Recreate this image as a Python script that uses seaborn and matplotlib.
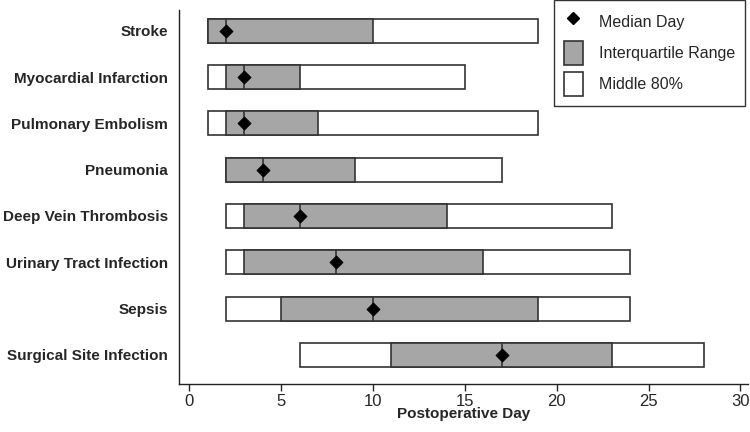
import matplotlib
matplotlib.use("Agg")
import matplotlib.pyplot as plt
import seaborn as sns
import pandas as pd
from matplotlib.patches import Patch
from matplotlib.lines import Line2D

complications = ["Stroke", "Myocardial Infarction", "Pulmonary Embolism", "Pneumonia",
                 "Deep Vein Thrombosis", "Urinary Tract Infection", "Sepsis",
                 "Surgical Site Infection"]
p10 = [1, 1, 1, 2, 2, 2, 2, 6]
q1 = [1, 2, 2, 2, 3, 3, 5, 11]
median = [2, 3, 3, 4, 6, 8, 10, 17]
q3 = [10, 6, 7, 9, 14, 16, 19, 23]
p90 = [19, 15, 19, 17, 23, 24, 24, 28]

df = pd.DataFrame({"complication": complications, "p10": p10, "q1": q1,
                   "median": median, "q3": q3, "p90": p90})

sns.set_style("ticks")
plt.rcParams["font.family"] = ["Liberation Sans", "DejaVu Sans"]

fig = plt.figure(figsize=(7.5, 4.32), dpi=100)
ax = fig.add_axes([0.239, 0.111, 0.758, 0.866])

ypos = list(range(len(df)))
h = 0.52
gray = "#a6a6a6"

# middle 80% (white) then IQR (gray) on top
ax.barh(ypos, df["p90"] - df["p10"], left=df["p10"], height=h,
        color="white", edgecolor="#333333", linewidth=1.2, zorder=2)
ax.barh(ypos, df["q3"] - df["q1"], left=df["q1"], height=h,
        color=gray, edgecolor="#333333", linewidth=1.2, zorder=3)
# median line through the box
for y, m in zip(ypos, df["median"]):
    ax.plot([m, m], [y - h / 2, y + h / 2], color="#333333", lw=1.2, zorder=4)
sns.scatterplot(x=df["median"], y=ypos, marker="D", s=45, color="black",
                edgecolor="black", ax=ax, zorder=5, legend=False)

ax.set_yticks(ypos)
ax.set_yticklabels(complications, fontweight="bold", fontsize=11)
ax.tick_params(axis="y", length=0, pad=8)
ax.set_ylim(7.63, -0.45)
ax.set_xlim(-0.55, 30.4)
ax.set_xticks(range(0, 31, 5))
ax.tick_params(axis="x", labelsize=12, length=5, width=1, pad=2)
ax.set_xlabel("Postoperative Day", fontweight="bold", fontsize=11, labelpad=-1)
ax.set_ylabel("")
sns.despine(ax=ax)
for s in ["left", "bottom"]:
    ax.spines[s].set_color("#222222")
    ax.spines[s].set_linewidth(1)

handles = [
    Line2D([], [], marker="D", color="black", linestyle="none", markersize=6.5),
    Patch(facecolor=gray, edgecolor="#333333", linewidth=1.2),
    Patch(facecolor="white", edgecolor="#333333", linewidth=1.2),
]
leg = ax.legend(handles, ["Median Day", "Interquartile Range", "Middle 80%"],
                loc="upper right", bbox_to_anchor=(1.0, 1.035), fontsize=11.5,
                frameon=True, fancybox=False, edgecolor="black",
                handlelength=1.2, handleheight=2.0, labelspacing=0.4,
                borderpad=0.6, handletextpad=1.0, borderaxespad=0.2)
leg.get_frame().set_linewidth(1)

fig.savefig("out.png", dpi=100)
